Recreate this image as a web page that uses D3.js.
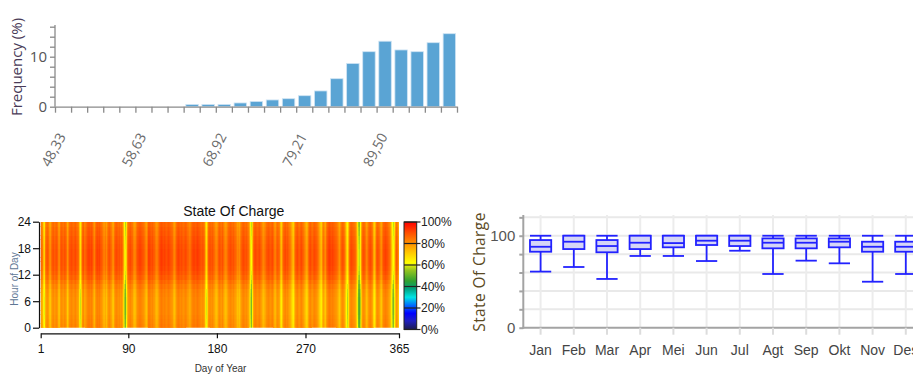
<!DOCTYPE html>
<html><head><meta charset="utf-8">
<script src="https://cdn.jsdelivr.net/npm/d3@7"></script>
<style>
body{margin:0;background:#fff;}
svg{display:block;font-family:"Open Sans","Noto Sans",sans-serif;}
</style>
</head><body>
<svg id="chart" width="913" height="376"></svg>
<script>
// ---------------- DATA ----------------
// Histogram of state of charge (%), 25 bins
const histBinStart = 48.33;
const histBinWidth = 2.0585;
const histFreq = [0,0,0,0,0,0,0,0,0.45,0.45,0.45,0.75,1.05,1.35,1.6,2.2,3.15,5.6,8.65,11.0,13.1,11.35,11.0,12.8,14.6];
const histTickLabels = ["48,33","58,63","68,92","79,21","89,50"];
const histTickBins = [0,5,10,15,20];
const histYTicks = [0,2,4,6,8,10,12,14,16];

// Heatmap: daily SOC level (%) per month, and hour-of-day deviation
const socJan = [84,82,80,70,66,80,84,85,83,78,77,82,85,86,84,85,86,84,79,78,84,86,85,84,86,85,82,76,80,85,86];
const socFeb = [87,86,85,86,87,85,84,82,72,64,74,84,86,82,79,83,85,87,88,88,87,88,86,82,79,84,87,88];
const socMar = [87,88,86,85,83,80,79,81,78,82,85,86,84,82,78,77,83,86,87,86,85,86,84,85,82,74,62,57,66,80,85];
const socApr = [86,87,85,84,80,78,79,83,86,87,88,88,87,86,85,83,80,78,82,86,88,88,87,86,87,85,84,81,79,80];
const socMei = [83,86,88,89,88,87,88,87,86,87,88,87,86,85,84,80,78,81,85,87,88,87,86,87,86,85,86,87,86,84,83];
const socJun = [81,82,85,87,88,88,87,88,89,88,87,86,85,86,85,82,72,65,74,84,86,87,86,85,86,84,82,79,78,80];
const socJul = [84,86,85,84,86,83,80,78,79,82,85,86,87,86,85,86,84,83,81,78,79,77,81,84,86,87,86,85,86,84,82];
const socAgt = [76,64,58,70,82,86,87,86,85,86,87,85,83,80,78,80,82,85,86,87,86,85,86,87,86,84,80,79,83,85,84];
const socSep = [82,74,70,78,84,86,87,85,86,84,82,80,76,72,70,78,84,86,87,85,84,86,87,85,83,80,77,74,76,82];
const socOkt = [86,87,85,84,86,87,86,85,83,80,76,72,70,78,82,79,77,83,86,88,89,88,87,88,87,86,85,86,84,82,79];
const socNov = [76,80,84,86,85,82,76,68,63,72,82,86,87,86,85,84,82,76,66,56,54,62,76,84,86,85,82,78,80,84];
const socDes = [86,87,85,82,74,70,76,84,86,85,83,79,77,82,86,87,88,87,86,84,82,78,70,62,58,66,78,84,82,76,80];
const hourOffset = [-4,-4.5,-5,-5.5,-5.5,-5.5,-5.5,-5,-4.5,-3,-1,1,2.5,3.5,4,4,4,4,3.5,3,2.5,1.5,1,0];
const heatXTicks = [1,90,180,270,365];
const heatYTicks = [0,6,12,18,24];
const colorbarTicks = [0,20,40,60,80,100];

// Monthly box plot of state of charge
const months = ["Jan","Feb","Mar","Apr","Mei","Jun","Jul","Agt","Sep","Okt","Nov","Des"];
const boxMin    = [61,66,53,78,78,72.5,83.7,58.4,72.9,70,50,58.4];
const boxQ1     = [82.6,85.5,82,85.5,87.4,89.9,88.8,86.3,86.3,87.4,82.6,82.6];
const boxMedian = [88,93.5,88.8,92.4,92,94.6,94.6,92.4,92.4,93.5,88,88];
const boxQ3     = [95.3,100,95.3,100,100,100,100,97.1,97.1,97.1,93.5,93.5];
const boxMax    = [100,100,100,100,100,100,100,100,100,100,100,100];
const boxYTicks = [0,20,40,60,80,100,120];

// ---------------- DRAW ----------------
const svg = d3.select("#chart");
svg.append("rect").attr("width",913).attr("height",376).attr("fill","#fff");

// ===== Histogram =====
(function(){
  const nb = histFreq.length;
  const x = d3.scaleLinear().domain([histBinStart, histBinStart + nb*histBinWidth]).range([55, 457]);
  const y = d3.scaleLinear().domain([0, 16.34]).range([106.7, 25]);
  const g = svg.append("g");
  const bars = histFreq.map((v,i)=>({v, x0: histBinStart + i*histBinWidth, x1: histBinStart + (i+1)*histBinWidth}));
  g.selectAll("rect.bar").data(bars).enter().append("rect")
    .attr("x", d => x(d.x0) + 2.2)
    .attr("width", d => x(d.x1) - x(d.x0) - 3.6)
    .attr("y", d => y(d.v))
    .attr("height", d => y(0) - y(d.v))
    .attr("fill", "#5aa4d4")
    .attr("stroke", "#cfe4f4").attr("stroke-width", 0.8);

  const edges = d3.range(nb+1).map(i => histBinStart + i*histBinWidth);
  const xa = g.append("g").attr("transform","translate(0,106.7)")
    .call(d3.axisBottom(x).tickValues(edges).tickSize(6).tickSizeOuter(0).tickFormat(""));
  xa.selectAll("path,line").attr("stroke","#8a8a8a").attr("stroke-width",1.3);

  g.selectAll("text.xl").data(histTickBins).enter().append("text")
    .attr("transform", (b) => `translate(${x(histBinStart + b*histBinWidth)+7},134) rotate(-62)`)
    .attr("text-anchor","end").attr("dy","0.35em")
    .attr("font-size", 14).attr("fill","#6b6b6b")
    .text((b,i) => histTickLabels[i]);

  const ya = g.append("g").attr("transform","translate(55,0)")
    .call(d3.axisLeft(y).tickValues(histYTicks).tickSize(5).tickSizeOuter(0).tickPadding(3)
      .tickFormat(d => (d % 10 === 0) ? d : ""));
  ya.select("path").attr("d","M0,25V106.7");
  ya.selectAll("path,line").attr("stroke","#8a8a8a").attr("stroke-width",1.3);
  ya.selectAll("text").attr("font-size",15).attr("fill","#555").attr("font-family","Open Sans, sans-serif");

  g.append("text").attr("transform","translate(22,67) rotate(-90)")
    .attr("text-anchor","middle").attr("font-size",15).attr("fill","#4a3b58")
    .text("Frequency (%)");
})();

// ===== Heatmap =====
(function(){
  const daily = [].concat(socJan,socFeb,socMar,socApr,socMei,socJun,socJul,socAgt,socSep,socOkt,socNov,socDes);
  const left = 40.7, right = 399, top = 221.7, bottom = 327.7;
  const x = d3.scaleLinear().domain([1,365]).range([left, right]);
  const y = d3.scaleLinear().domain([0,24]).range([bottom, top]);
  const color = d3.scaleLinear()
    .domain([0, 8, 15, 22, 30, 38, 45, 55, 62, 72, 82, 90, 100])
    .range(["#1c1c4e","#1f1fc0","#0000ff","#0064ff","#00e4e4","#00a07c","#2ea030","#94c420","#ffff00","#ffc400","#ff8400","#ff4e00","#ff0000"])
    .clamp(true);
  const cells = [];
  daily.forEach((v,di) => hourOffset.forEach((o,h) => cells.push({day: di+1, hour: h, v: Math.max(0, Math.min(100, v + o))})));
  const g = svg.append("g");
  g.append("clipPath").attr("id","hclip").append("rect")
    .attr("x",left).attr("y",top).attr("width",right-left).attr("height",bottom-top);
  const step = x(2) - x(1);
  const hstep = y(0) - y(1);
  g.append("g").attr("clip-path","url(#hclip)").selectAll("rect").data(cells).enter().append("rect")
    .attr("x", d => x(d.day) - step/2)
    .attr("width", step + 0.6)
    .attr("y", d => y(d.hour + 1))
    .attr("height", hstep + 0.6)
    .attr("fill", d => color(d.v))
    .attr("shape-rendering","crispEdges");

  svg.append("text").attr("x",233.8).attr("y",216).attr("text-anchor","middle")
    .attr("font-family","Liberation Sans, Arial, sans-serif").attr("font-size",14).attr("fill","#111")
    .text("State Of Charge");

  const ya = g.append("g").attr("transform","translate(39,0)")
    .call(d3.axisLeft(y).tickValues(heatYTicks).tickSize(6).tickSizeOuter(0).tickPadding(2));
  ya.selectAll("path,line").attr("stroke","#111").attr("stroke-width",1.2);
  ya.selectAll("text").attr("font-family","Liberation Sans, Arial, sans-serif").attr("font-size",12).attr("fill","#111");

  const xa = g.append("g").attr("transform","translate(0,333.3)")
    .call(d3.axisBottom(x).tickValues(heatXTicks).tickSize(5).tickSizeOuter(0).tickPadding(6));
  xa.selectAll("path,line").attr("stroke","#111").attr("stroke-width",1.2);
  xa.selectAll("text").attr("font-family","Liberation Sans, Arial, sans-serif").attr("font-size",12).attr("fill","#111");

  g.append("text").attr("transform","translate(18,279) rotate(-90)").attr("text-anchor","middle")
    .attr("font-family","Liberation Sans, Arial, sans-serif").attr("font-size",10).attr("fill","#5f7795")
    .text("Hour of Day");
  g.append("text").attr("x",220.5).attr("y",372).attr("text-anchor","middle")
    .attr("font-family","Liberation Sans, Arial, sans-serif").attr("font-size",10).attr("fill","#333")
    .text("Day of Year");

  // colorbar
  const cb = d3.scaleLinear().domain([0,100]).range([329.5,222]);
  const defs = svg.append("defs");
  const grad = defs.append("linearGradient").attr("id","cbgrad").attr("x1",0).attr("y1",1).attr("x2",0).attr("y2",0);
  color.domain().forEach((d,i) => grad.append("stop").attr("offset", d/100).attr("stop-color", color.range()[i]));
  g.append("rect").attr("x",404).attr("y",cb(100)).attr("width",12.7).attr("height",cb(0)-cb(100))
    .attr("fill","url(#cbgrad)").attr("stroke","#222").attr("stroke-width",1);
  g.selectAll("line.cbt").data(colorbarTicks).enter().append("line")
    .attr("x1",404).attr("x2",420.5).attr("y1",d=>cb(d)).attr("y2",d=>cb(d))
    .attr("stroke","#222").attr("stroke-width",1.2);
  g.selectAll("text.cbl").data(colorbarTicks).enter().append("text")
    .attr("x",421).attr("y",d=>cb(d)).attr("dy","0.35em")
    .attr("font-family","Liberation Sans, Arial, sans-serif").attr("font-size",12).attr("fill","#222")
    .text(d => d + "%");
})();

// ===== Box plot =====
(function(){
  const x = d3.scaleBand().domain(months).range([524, 524 + 33.2*12]).paddingInner(0.36).paddingOuter(0.18);
  const y = d3.scaleLinear().domain([0,122]).range([327.7, 215.5]);
  const g = svg.append("g");
  const cx = m => x(m) + x.bandwidth()/2;
  // grid
  g.selectAll("line.hg").data(boxYTicks.filter(d=>d>0)).enter().append("line")
    .attr("x1",524).attr("x2",913).attr("y1",d=>y(d)).attr("y2",d=>y(d))
    .attr("stroke","#e9e9e9").attr("stroke-width",2);
  g.selectAll("line.vg").data(months).enter().append("line")
    .attr("x1",cx).attr("x2",cx).attr("y1",215).attr("y2",327.7)
    .attr("stroke","#ececec").attr("stroke-width",2);

  const ya = g.append("g").attr("transform","translate(523.3,0)")
    .call(d3.axisLeft(y).tickValues(boxYTicks).tickSize(4).tickSizeOuter(0).tickPadding(4)
      .tickFormat(d => (d===0||d===100) ? d : ""));
  ya.select("path").attr("d","M0,215V328.7");
  ya.selectAll("path,line").attr("stroke","#a3a3a3").attr("stroke-width",2);
  ya.selectAll("text").attr("font-size",15).attr("fill","#555");

  const xa = g.append("g").attr("transform","translate(0,327.7)")
    .call(d3.axisBottom(x).tickSize(7).tickSizeOuter(0).tickPadding(10));
  xa.select("path").attr("d","M522.3,0H913");
  xa.selectAll("path,line").attr("stroke","#a3a3a3").attr("stroke-width",2);
  xa.selectAll("line").attr("stroke","#dcdcdc");
  xa.selectAll("text").attr("font-size",14).attr("fill","#444");

  const data = months.map((m,i) => ({m, min: boxMin[i], q1: boxQ1[i], med: boxMedian[i], q3: boxQ3[i], max: boxMax[i]}));
  const bw = x.bandwidth();
  const bx = g.selectAll("g.box").data(data).enter().append("g").attr("transform", d => `translate(${x(d.m)},0)`);
  const stroke = "#2222ff";
  bx.append("line").attr("x1",bw/2).attr("x2",bw/2).attr("y1",d=>y(d.max)).attr("y2",d=>y(d.min))
    .attr("stroke",stroke).attr("stroke-width",1.8);
  bx.append("line").attr("x1",0).attr("x2",bw).attr("y1",d=>y(d.max)).attr("y2",d=>y(d.max))
    .attr("stroke",stroke).attr("stroke-width",1.8);
  bx.append("line").attr("x1",0).attr("x2",bw).attr("y1",d=>y(d.min)).attr("y2",d=>y(d.min))
    .attr("stroke",stroke).attr("stroke-width",1.8);
  bx.append("rect").attr("x",0).attr("width",bw).attr("y",d=>y(d.q3)).attr("height",d=>y(d.q1)-y(d.q3))
    .attr("fill","#d5d5f6").attr("stroke",stroke).attr("stroke-width",1.8);
  bx.append("line").attr("x1",0).attr("x2",bw).attr("y1",d=>y(d.med)).attr("y2",d=>y(d.med))
    .attr("stroke",stroke).attr("stroke-width",1.8);

  g.append("text").attr("transform","translate(485,272) rotate(-90)").attr("text-anchor","middle")
    .attr("font-size",15.5).attr("fill","#5b4a24").attr("letter-spacing",0.4)
    .text("State Of Charge");
})();
</script>
</body></html>
